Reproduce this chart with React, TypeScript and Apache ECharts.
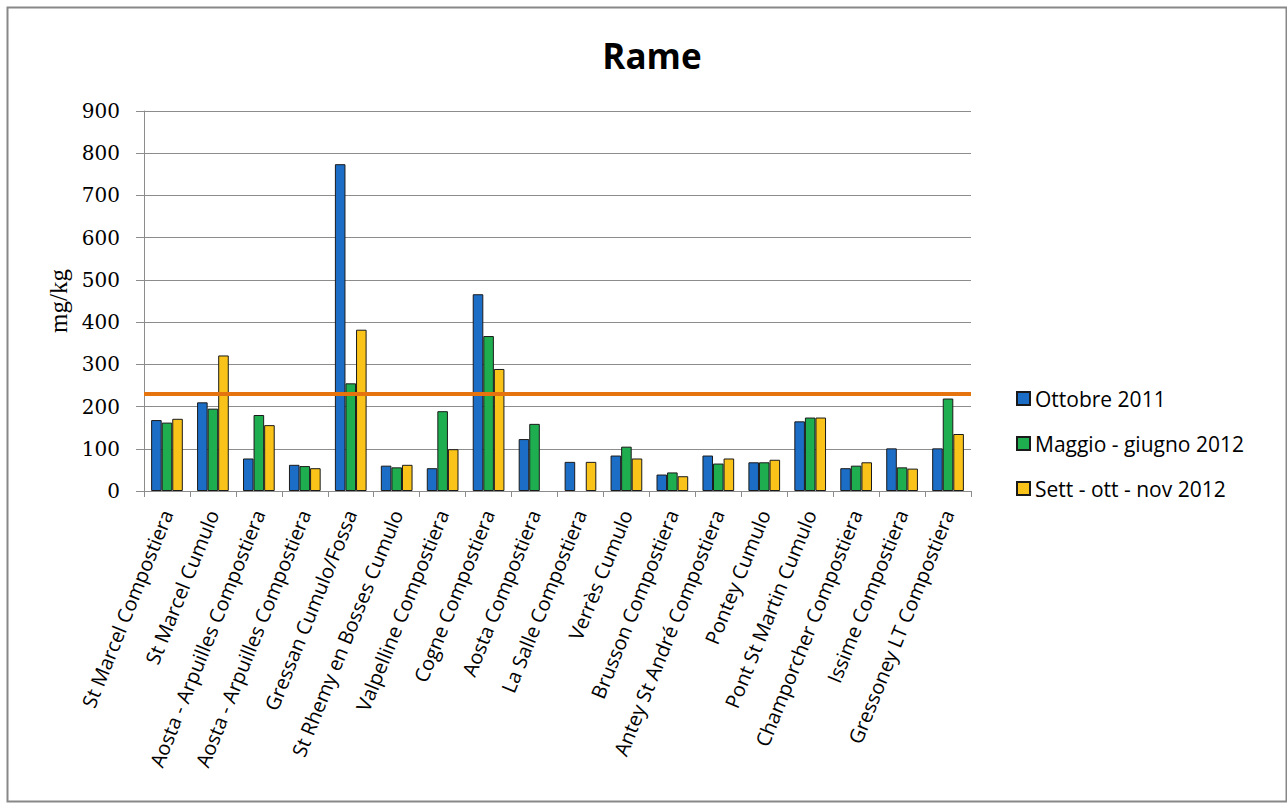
import React, { useEffect, useRef } from "react";
import * as echarts from "echarts";

const categories = [
  "St Marcel Compostiera",
  "St Marcel Cumulo",
  "Aosta - Arpuilles Compostiera",
  "Aosta - Arpuilles Compostiera",
  "Gressan Cumulo/Fossa",
  "St Rhemy en Bosses Cumulo",
  "Valpelline Compostiera",
  "Cogne Compostiera",
  "Aosta Compostiera",
  "La Salle Compostiera",
  "Verrès Cumulo",
  "Brusson Compostiera",
  "Antey St André Compostiera",
  "Pontey Cumulo",
  "Pont St Martin Cumulo",
  "Champorcher Compostiera",
  "Issime Compostiera",
  "Gressoney LT Compostiera",
];

const ottobre2011 = [168, 210, 77, 62, 774, 60, 54, 466, 123, 69, 84, 39, 84, 68, 165, 54, 101, 101];
const maggioGiugno2012 = [162, 195, 180, 59, 255, 56, 189, 367, 159, null, 105, 44, 65, 68, 174, 60, 56, 219];
const settOttNov2012 = [171, 321, 156, 54, 382, 62, 99, 289, null, 69, 77, 35, 77, 74, 174, 68, 53, 135];

const seriesNames = ["Ottobre 2011", "Maggio - giugno 2012", "Sett - ott - nov 2012"];
const seriesColors = ["#1c6dc5", "#1fae4f", "#f9c31a"];
const limitValue = 230;

const yMin = 0;
const yMax = 900;
const yInterval = 100;

export default function App() {
  const ref = useRef<HTMLDivElement>(null);

  useEffect(() => {
    if (!ref.current) return;
    const chart = echarts.init(ref.current, null, { renderer: "svg" });
    const sansFont = "Open Sans";
    const dataSets = [ottobre2011, maggioGiugno2012, settOttNov2012];

    const series: any[] = dataSets.map((d, i) => ({
      name: seriesNames[i],
      type: "bar",
      data: d.map((v) => (v === null ? "-" : v)),
      barGap: "0%",
      barCategoryGap: "31%",
      itemStyle: {
        color: seriesColors[i],
        borderColor: "#1a1a1a",
        borderWidth: 1,
      },
      emphasis: { disabled: true },
      ...(i === 0
        ? {
            markLine: {
              silent: true,
              symbol: "none",
              label: { show: false },
              lineStyle: { color: "#e5740f", width: 4, type: "solid" },
              data: [{ yAxis: limitValue }],
              z: 10,
            },
          }
        : {}),
    }));

    chart.setOption({
      animation: false,
      backgroundColor: "#ffffff",
      title: {
        text: "Rame",
        left: 647,
        top: 33,
        textAlign: "center",
        textStyle: {
          fontFamily: sansFont,
          fontWeight: "bold",
          fontSize: 35,
          color: "#000",
        },
      },
      legend: {
        orient: "vertical",
        left: 1011,
        top: 381,
        itemWidth: 13,
        itemHeight: 13,
        itemGap: 20,
        icon: "rect",
        textStyle: {
          fontFamily: sansFont,
          fontSize: 21,
          color: "#000",
          lineHeight: 25,
        },
        data: seriesNames,
      },
      grid: {
        left: 144,
        right: 316,
        top: 111,
        bottom: 312,
        containLabel: false,
      },
      xAxis: {
        type: "category",
        data: categories,
        boundaryGap: true,
        axisLine: { show: true, lineStyle: { color: "#8c8c8c", width: 1 } },
        axisTick: { show: true, length: 6, lineStyle: { color: "#8c8c8c" } },
        axisLabel: {
          interval: 0,
          rotate: 68,
          margin: 20,
          fontFamily: sansFont,
          fontSize: 20,
          color: "#000",
        },
      },
      yAxis: {
        type: "value",
        min: yMin,
        max: yMax,
        interval: yInterval,
        name: "mg/kg",
        nameLocation: "middle",
        nameRotate: 90,
        nameGap: 72,
        nameTextStyle: {
          fontFamily: "Liberation Serif",
          fontSize: 25,
          color: "#000",
        },
        axisLine: { show: true, lineStyle: { color: "#8c8c8c", width: 1 } },
        axisTick: { show: true, length: 8, inside: false, lineStyle: { color: "#8c8c8c" } },
        axisLabel: {
          margin: 24,
          fontFamily: "DejaVu Serif",
          fontSize: 20,
          color: "#000",
        },
        splitLine: { show: true, lineStyle: { color: "#8c8c8c", width: 1 } },
      },
      graphic: [
        {
          type: "rect",
          left: 5,
          top: 5,
          shape: { width: 1279, height: 794 },
          style: { fill: "none", stroke: "#888", lineWidth: 2 },
          silent: true,
          z: -1,
        },
      ],
      series,
    });

    return () => chart.dispose();
  }, []);

  return (
    <div
      ref={ref}
      style={{ position: "fixed", left: 0, top: 0, width: 1287, height: 803 }}
    />
  );
}
